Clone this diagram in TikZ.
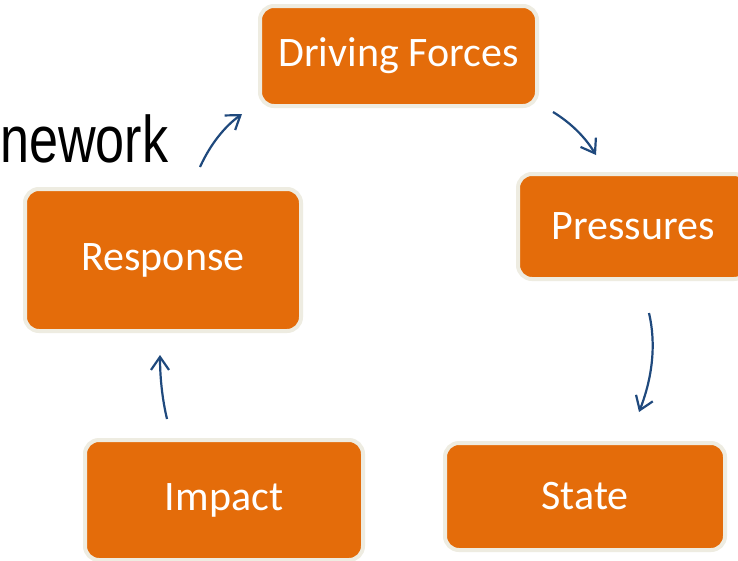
\documentclass[tikz,border=0pt]{standalone}
\usepackage{fontspec}
\setmainfont{Carlito}
\newfontfamily\titlefont{Liberation Sans}
\usetikzlibrary{arrows.meta}

\definecolor{orange}{RGB}{228,108,10}
\definecolor{cream}{RGB}{238,236,225}
\definecolor{navy}{RGB}{31,73,125}

\begin{document}
\begin{tikzpicture}[x=1pt, y=-1pt,
	stage/.style={draw=cream, line width=4pt, fill=orange, rounded corners=14pt, text=white, inner sep=0pt, font=\fontsize{42}{50}\selectfont},
	link/.style={navy, line width=2.2pt, -{Straight Barb[length=13pt,width=18pt]}}]
	\useasboundingbox (0,0) rectangle (738,560);
	\fill[white] (0,0) rectangle (738,560);
	\clip (0,0) rectangle (738,560);

	\node[anchor=base west, inner sep=0pt, font=\titlefont\fontsize{66}{70}\selectfont] (title) at (0,162) {\scalebox{0.79}[1]{nework}};

	\node[stage, minimum width=277pt, minimum height=100pt] (drive) at (398.5,56) {Driving Forces};
	\node[stage, minimum width=230pt, minimum height=105pt] (press) at (633,226.5) {Pressures};
	\node[stage, minimum width=280pt, minimum height=107pt] (state) at (585,496.5) {State};
	\node[stage, minimum width=278pt, minimum height=120pt] (impact) at (224,500) {Impact};
	\node[stage, minimum width=276pt, minimum height=142pt] (resp) at (163,260) {Response};

	% loose arrow ends between the boxes
	\coordinate (rd1) at (200,167);
	\coordinate (rd2) at (242,114);
	\coordinate (dp1) at (553,112);
	\coordinate (dp2) at (596,155);
	\coordinate (ps1) at (649,313);
	\coordinate (ps2) at (639,412);
	\coordinate (ir1) at (167,419);
	\coordinate (ir2) at (160,355);

	\draw[link] (rd1) .. controls (210,145) and (224,127) .. (rd2);
	\draw[link] (dp1) .. controls (571,123) and (585,137) .. (dp2);
	\draw[link] (ps1) .. controls (656,343) and (653,376) .. (ps2);
	\draw[link] (ir1) .. controls (162,398) and (160,376) .. (ir2);
\end{tikzpicture}
\end{document}
